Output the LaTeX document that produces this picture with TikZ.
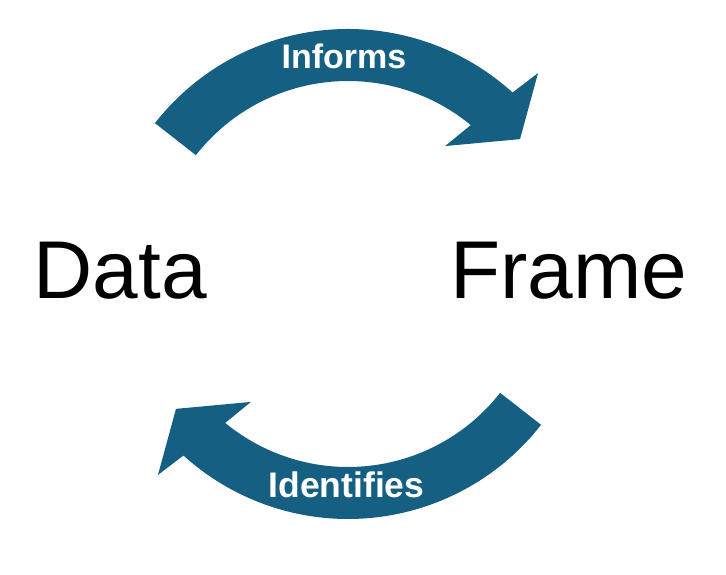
\documentclass[tikz,border=0pt]{standalone}
\usepackage{fontspec}
\setmainfont{Liberation Sans}
\usepackage{tikz}

\definecolor{cyclebl}{HTML}{156082}

\begin{document}
\begin{tikzpicture}[x=1pt, y=1pt,
    bigword/.style={inner sep=0pt, anchor=base west, font=\fontsize{82}{82}\selectfont},
    arrowword/.style={inner sep=0pt, anchor=base, text=white, font=\bfseries\fontsize{34}{34}\selectfont},
    bandarrow/.style={fill=cyclebl, draw=none}]
    \useasboundingbox (0,0) rectangle (726,575);

    % upper arrow, lower one is the same turned round
    \begin{scope}[shift={(348,301)}]
        \fill[bandarrow] (142:245) arc[start angle=142, end angle=47.8, radius=245]
            -- (46.6:276.6) -- (38.1:218.6) -- (52.8:160.6) -- (50.5:193)
            arc[start angle=50.5, end angle=142, radius=193] -- cycle;
    \end{scope}
    \begin{scope}[shift={(348,301)}, rotate=180]
        \fill[bandarrow] (142:245) arc[start angle=142, end angle=47.8, radius=245]
            -- (46.6:276.6) -- (38.1:218.6) -- (52.8:160.6) -- (50.5:193)
            arc[start angle=50.5, end angle=142, radius=193] -- cycle;
    \end{scope}

    \node[bigword] (data) at (33.5,276) {Data};
    \node[bigword] (frame) at (450,276) {Frame};
    \node[arrowword] (informs) at (344,506) {Informs};
    \node[arrowword, font=\bfseries\fontsize{35.5}{35.5}\selectfont] (identifies) at (346.5,77) {Identifies};
\end{tikzpicture}
\end{document}
